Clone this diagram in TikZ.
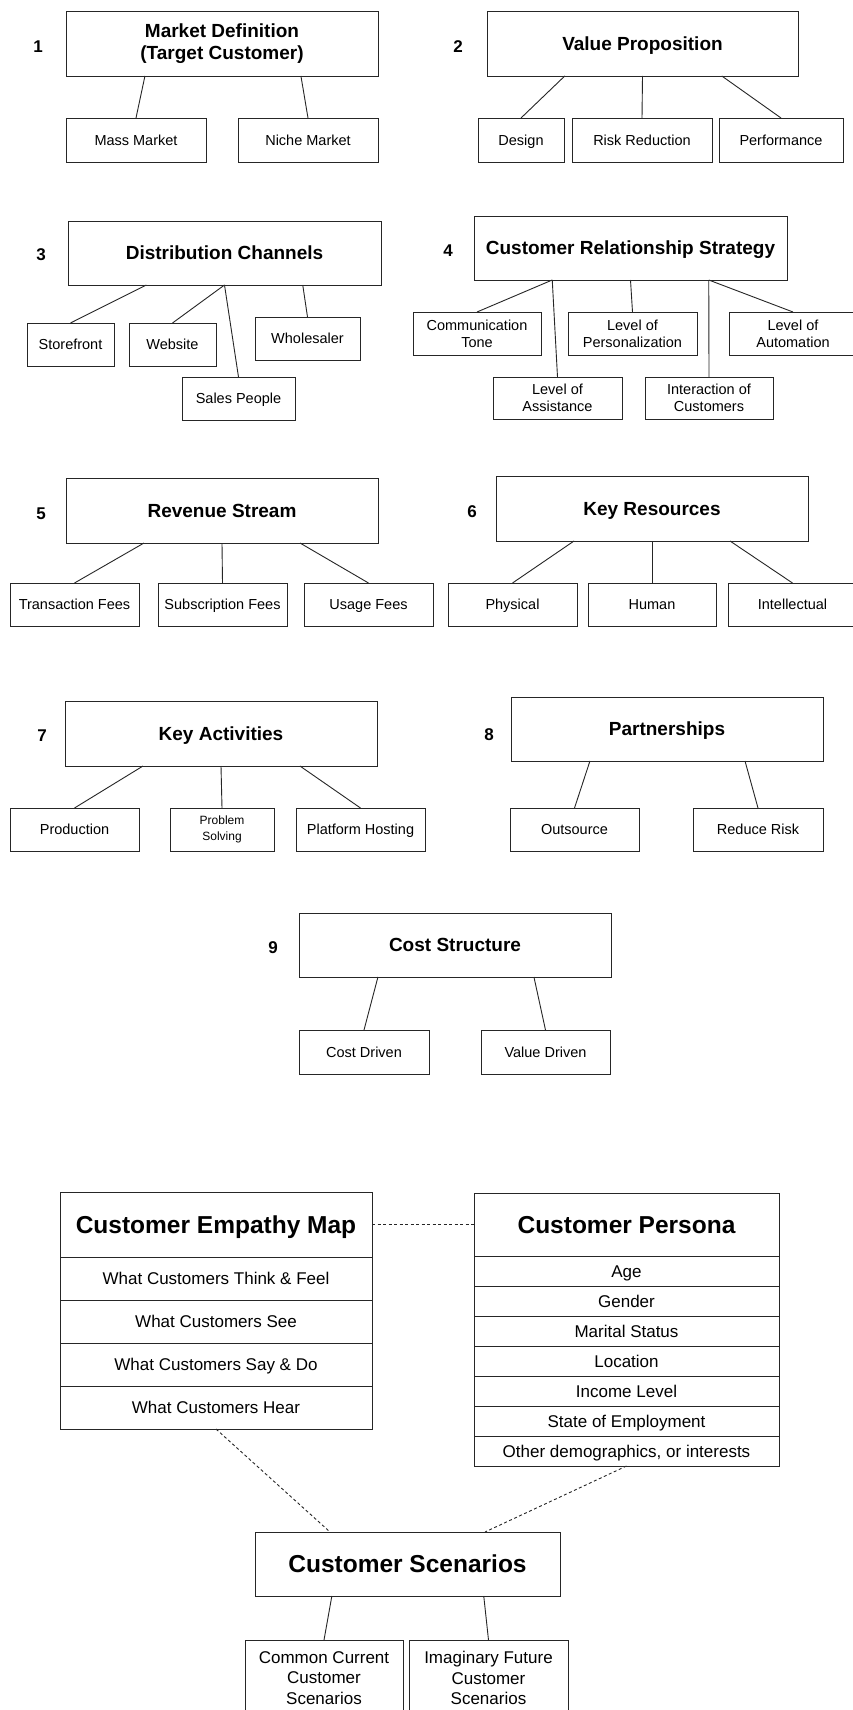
\documentclass[tikz,border=0pt]{standalone}
\usepackage{fontspec}
\setmainfont{Liberation Sans}
\usetikzlibrary{calc}
\newcommand\smallf{\fontsize{14.5}{17}\selectfont}
\newcommand\tinyf{\fontsize{12}{15.5}\selectfont}
\newcommand\titlef{\bfseries\fontsize{19}{22.5}\selectfont}
\newcommand\numf{\bfseries\fontsize{17}{20}\selectfont}
\newcommand\bigtitlef{\bfseries\fontsize{24.5}{28}\selectfont}
\newcommand\rowf{\fontsize{17}{20.5}\selectfont}
\newcommand\linkboxes[4]{\draw[link] ($(#1.south west)!#2!(#1.south east)$) -- ($(#3.north west)!#4!(#3.north east)$);}
\tikzset{
  base/.style={draw=black!85, line width=0.9pt, inner sep=0pt, outer sep=0pt, align=center, font=\smallf, text=black},
  titlebox/.style={base, font=\titlef, minimum width=312pt, minimum height=65pt, text height=13.6pt, text depth=0pt},
  mtitlebox/.style={base, font=\titlef, minimum width=312pt, minimum height=65pt},
  leaf/.style={base, minimum height=43pt, text height=10.4pt, text depth=0pt},
  mleaf/.style={base, minimum height=43pt},
  num/.style={font=\numf, inner sep=0pt, text=black, text height=12.2pt, text depth=0pt},
  link/.style={draw=black!85, line width=0.9pt},
  dlink/.style={draw=black!85, line width=0.9pt, dash pattern=on 3pt off 2.5pt},
  bigtitle/.style={base, font=\bigtitlef, text height=17.5pt, text depth=0pt},
  rowbox/.style={base, font=\rowf, text height=12.2pt, text depth=0pt},
  mrowbox/.style={base, font=\rowf},
}
\begin{document}
\begin{tikzpicture}[x=1pt,y=-1pt]
\useasboundingbox (0,0) rectangle (853,1710);
\clip (0,0) rectangle (853,1710);
\fill[white] (0,0) rectangle (853,1710);

% ---- 1 Market Definition
\node[num] (n1) at (38,46) {1};
\node[mtitlebox] (md) at (222,43.5) {Market Definition\\(Target Customer)};
\node[leaf, minimum width=140pt, minimum height=44pt] (mass) at (136,140) {Mass Market};
\node[leaf, minimum width=140pt, minimum height=44pt] (niche) at (308,140) {Niche Market};
\linkboxes{md}{0.253}{mass}{0.5}
\linkboxes{md}{0.753}{niche}{0.5}

% ---- 2 Value Proposition
\node[num] (n2) at (458,46) {2};
\node[titlebox, minimum width=311pt] (vp) at (642.5,43.5) {Value Proposition};
\node[leaf, minimum width=86pt, minimum height=44pt] (design) at (521,140) {Design};
\node[leaf, minimum width=140pt, minimum height=44pt] (risk) at (642,140) {Risk Reduction};
\node[leaf, minimum width=124pt, minimum height=44pt] (perf) at (781,140) {Performance};
\linkboxes{vp}{0.25}{design}{0.5}
\linkboxes{vp}{0.5}{risk}{0.5}
\linkboxes{vp}{0.755}{perf}{0.5}

% ---- 3 Distribution Channels
\node[num] (n3) at (41,254) {3};
\node[titlebox, minimum width=313pt, minimum height=64pt] (dc) at (224.5,253) {Distribution Channels};
\node[leaf, minimum width=87pt] (store) at (70.5,344.5) {Storefront};
\node[leaf, minimum width=87pt] (web) at (172.5,344.5) {Website};
\node[leaf, minimum width=105pt] (whole) at (307.5,338.5) {Wholesaler};
\node[leaf, minimum width=113pt] (sales) at (238.5,398.5) {Sales People};
\linkboxes{dc}{0.25}{store}{0.5}
\linkboxes{dc}{0.5}{web}{0.5}
\linkboxes{dc}{0.5}{sales}{0.5}
\linkboxes{dc}{0.75}{whole}{0.5}

% ---- 4 Customer Relationship Strategy
\node[num] (n4) at (448,250) {4};
\node[titlebox, minimum width=313pt, minimum height=64pt] (crs) at (630.5,248) {Customer Relationship Strategy};
\node[mleaf, minimum width=128pt] (comm) at (477,333.5) {Communication\\Tone};
\node[mleaf, minimum width=129pt] (pers) at (632.5,333.5) {Level of\\Personalization};
\node[mleaf, minimum width=128pt] (auto) at (793,333.5) {Level of\\Automation};
\node[mleaf, minimum width=129pt, minimum height=42pt] (assist) at (557.5,398) {Level of\\Assistance};
\node[mleaf, minimum width=128pt, minimum height=42pt] (inter) at (709,398) {Interaction of\\Customers};
\linkboxes{crs}{0.25}{comm}{0.5}
\linkboxes{crs}{0.25}{assist}{0.5}
\linkboxes{crs}{0.5}{pers}{0.5}
\linkboxes{crs}{0.75}{auto}{0.5}
\linkboxes{crs}{0.75}{inter}{0.5}

% ---- 5 Revenue Stream
\node[num] (n5) at (41,513) {5};
\node[titlebox] (rs) at (222,510.5) {Revenue Stream};
\node[leaf, minimum width=129pt] (trans) at (74.5,604.5) {Transaction Fees};
\node[leaf, minimum width=129pt] (subs) at (222.5,604.5) {Subscription Fees};
\node[leaf, minimum width=129pt] (usage) at (368.5,604.5) {Usage Fees};
\linkboxes{rs}{0.25}{trans}{0.5}
\linkboxes{rs}{0.5}{subs}{0.5}
\linkboxes{rs}{0.75}{usage}{0.5}

% ---- 6 Key Resources
\node[num] (n6) at (472,511) {6};
\node[titlebox] (kr) at (652,508.5) {Key Resources};
\node[leaf, minimum width=129pt] (phys) at (512.5,604.5) {Physical};
\node[leaf, minimum width=128pt] (human) at (652,604.5) {Human};
\node[leaf, minimum width=129pt] (intel) at (792.5,604.5) {Intellectual};
\linkboxes{kr}{0.25}{phys}{0.5}
\linkboxes{kr}{0.5}{human}{0.5}
\linkboxes{kr}{0.75}{intel}{0.5}

% ---- 7 Key Activities
\node[num] (n7) at (42,735) {7};
\node[titlebox] (ka) at (221,733.5) {Key Activities};
\node[leaf, minimum width=129pt] (prod) at (74.5,829.5) {Production};
\node[mleaf, minimum width=104pt, font=\tinyf] (prob) at (222,829.5) {Problem\\Solving};
\node[leaf, minimum width=129pt] (plat) at (360.5,829.5) {Platform Hosting};
\linkboxes{ka}{0.25}{prod}{0.5}
\linkboxes{ka}{0.5}{prob}{0.5}
\linkboxes{ka}{0.753}{plat}{0.5}

% ---- 8 Partnerships
\node[num] (n8) at (489,734) {8};
\node[titlebox, minimum height=64pt] (part) at (667,729) {Partnerships};
\node[leaf, minimum width=129pt] (out) at (574.5,829.5) {Outsource};
\node[leaf, minimum width=130pt] (reduce) at (758,829.5) {Reduce Risk};
\linkboxes{part}{0.253}{out}{0.5}
\linkboxes{part}{0.75}{reduce}{0.5}

% ---- 9 Cost Structure
\node[num] (n9) at (273,947) {9};
\node[titlebox, minimum height=64pt] (cs) at (455,945) {Cost Structure};
\node[leaf, minimum width=130pt, minimum height=44pt] (costd) at (364,1052) {Cost Driven};
\node[leaf, minimum width=129pt, minimum height=44pt] (valued) at (545.5,1052) {Value Driven};
\linkboxes{cs}{0.253}{costd}{0.5}
\linkboxes{cs}{0.753}{valued}{0.5}

% ---- Customer Empathy Map
\node[bigtitle, minimum width=312pt, minimum height=65pt] (e0) at (216,1224.5) {Customer Empathy Map};
\node[rowbox, minimum width=312pt, minimum height=43pt] (e1) at (216,1278.5) {What Customers Think \& Feel};
\node[rowbox, minimum width=312pt, minimum height=43pt] (e2) at (216,1321.5) {What Customers See};
\node[rowbox, minimum width=312pt, minimum height=43pt] (e3) at (216,1364.5) {What Customers Say \& Do};
\node[rowbox, minimum width=312pt, minimum height=43pt] (e4) at (216,1407.5) {What Customers Hear};

% ---- Customer Persona
\node[bigtitle, minimum width=305pt, minimum height=63pt] (p0) at (626.5,1224.5) {Customer Persona};
\node[rowbox, minimum width=305pt, minimum height=30pt] (p1) at (626.5,1271) {Age};
\node[rowbox, minimum width=305pt, minimum height=30pt] (p2) at (626.5,1301) {Gender};
\node[rowbox, minimum width=305pt, minimum height=30pt] (p3) at (626.5,1331) {Marital Status};
\node[rowbox, minimum width=305pt, minimum height=30pt] (p4) at (626.5,1361) {Location};
\node[rowbox, minimum width=305pt, minimum height=30pt] (p5) at (626.5,1391) {Income Level};
\node[rowbox, minimum width=305pt, minimum height=30pt] (p6) at (626.5,1421) {State of Employment};
\node[rowbox, minimum width=305pt, minimum height=30pt] (p7) at (626.5,1451) {Other demographics, or interests};

% ---- Customer Scenarios
\node[bigtitle, minimum width=305pt, minimum height=64pt] (sc) at (407.5,1564) {Customer Scenarios};
\node[mrowbox, minimum width=158pt, minimum height=76pt] (common) at (324,1678) {Common Current\\Customer\\Scenarios};
\node[mrowbox, minimum width=159pt, minimum height=76pt] (imag) at (488.5,1678) {Imaginary Future\\Customer\\Scenarios};
\linkboxes{sc}{0.252}{common}{0.5}
\linkboxes{sc}{0.75}{imag}{0.5}

\draw[dlink] (e0.east) -- (p0.west);
\draw[dlink] (e4.south) -- ($(sc.north west)!0.246!(sc.north east)$);
\draw[dlink] (p7.south) -- ($(sc.north west)!0.754!(sc.north east)$);
\end{tikzpicture}
\end{document}
